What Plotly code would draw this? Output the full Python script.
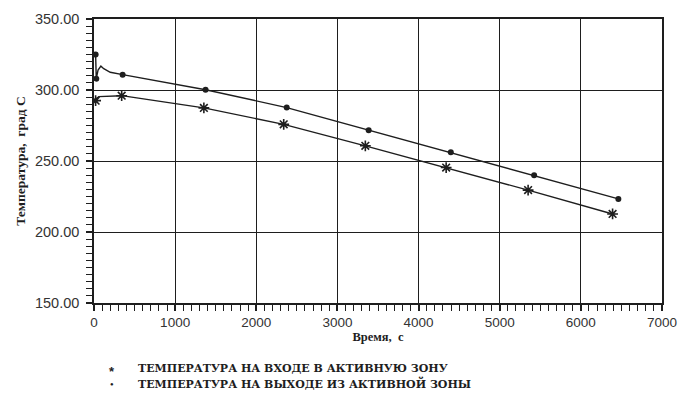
import plotly.graph_objects as go

# ---- data ----
out_t = [20, 28, 50, 85, 120, 200, 353, 1375, 2375, 3385, 4397, 5424, 6462]
out_v = [325.0, 308.0, 314.0, 316.8, 315.0, 312.5, 310.8, 300.2, 287.6, 271.7, 256.2, 239.9, 223.3]
out_mark_t = [20, 28, 353, 1375, 2375, 3385, 4397, 5424, 6462]
out_mark_v = [325.0, 308.0, 310.8, 300.2, 287.6, 271.7, 256.2, 239.9, 223.3]

in_t = [20, 30, 60, 120, 341, 1354, 2338, 3344, 4340, 5350, 6391]
in_v = [292.5, 294.0, 295.3, 295.5, 296.0, 287.4, 275.8, 260.7, 245.4, 229.5, 212.7]
in_mark_t = [20, 341, 1354, 2338, 3344, 4340, 5350, 6391]
in_mark_v = [292.5, 296.0, 287.4, 275.8, 260.7, 245.4, 229.5, 212.7]

x_range = [0, 7000]
y_range = [150, 350]

legend_labels = ["ТЕМПЕРАТУРА НА ВХОДЕ В АКТИВНУЮ ЗОНУ",
                 "ТЕМПЕРАТУРА НА ВЫХОДЕ ИЗ АКТИВНОЙ ЗОНЫ"]
x_title = "Время,  с"
y_title = "Температура,  град С"

INK = "#1e1e1e"

fig = go.Figure()
fig.add_trace(go.Scatter(x=out_t, y=out_v, mode="lines",
                         line=dict(color=INK, width=1.4), showlegend=False, hoverinfo="skip"))
fig.add_trace(go.Scatter(x=in_t, y=in_v, mode="lines",
                         line=dict(color=INK, width=1.4), showlegend=False, hoverinfo="skip"))
fig.add_trace(go.Scatter(x=out_mark_t, y=out_mark_v, mode="markers",
                         marker=dict(symbol="circle", size=6, color=INK), showlegend=False))
fig.add_trace(go.Scatter(x=in_mark_t, y=in_mark_v, mode="markers",
                         marker=dict(symbol="asterisk-open", size=9, color=INK,
                                     line=dict(color=INK, width=1.6)),
                         showlegend=False))

fig.update_layout(
    xaxis=dict(range=x_range, tickmode="linear", tick0=0, dtick=1000,
               showline=True, linecolor=INK, linewidth=1.5, mirror=True,
               showgrid=True, gridcolor=INK, gridwidth=1.3, zeroline=False,
               ticks="outside", ticklen=6, tickwidth=1.5, tickcolor=INK,
               minor=dict(ticks="outside", dtick=100, ticklen=6, tickwidth=1.3, tickcolor=INK),
               tickfont=dict(family="Liberation Sans", size=13.5, color="#333"),
               title=dict(text="<b>" + x_title + "</b>",
                          font=dict(family="Liberation Serif", size=12.5, color=INK), standoff=3)),
    yaxis=dict(range=y_range, tickmode="linear", tick0=150, dtick=50, tickformat=".2f",
               showline=True, linecolor=INK, linewidth=1.5, mirror=True,
               showgrid=True, gridcolor=INK, gridwidth=1.3, zeroline=False,
               ticks="outside", ticklen=6, tickwidth=1.5, tickcolor=INK,
               minor=dict(ticks="outside", dtick=5, ticklen=6, tickwidth=1.3, tickcolor=INK),
               ticklabelstandoff=4,
               tickfont=dict(family="Liberation Sans", size=14.5, color="#333"),
               title=dict(text="<b>" + y_title + "</b>",
                          font=dict(family="Liberation Serif", size=13.5, color=INK), standoff=6)),
)

# legend drawn as annotations below the plot
syms = ["<b>*</b>", "●"]
sym_sizes = [13, 6]
rows_y = [370, 386]
for i, lab in enumerate(legend_labels):
    yp = (303 - rows_y[i]) / 292.0
    fig.add_annotation(xref="paper", yref="paper", x=(112 - 94) / 568.0, y=yp,
                       text=syms[i], showarrow=False, xanchor="center", yanchor="middle",
                       font=dict(family="Liberation Sans", size=sym_sizes[i], color=INK),
                       yshift=-3 if i == 0 else 0)
    fig.add_annotation(xref="paper", yref="paper", x=(136 - 94) / 568.0, y=yp,
                       text="<b>" + lab + "</b>", showarrow=False, xanchor="left", yanchor="middle",
                       font=dict(family="DejaVu Serif", size=11, color=INK))

fig.update_layout(width=691, height=394,
                  margin=dict(l=94, r=29, t=11, b=91),
                  paper_bgcolor="white", plot_bgcolor="white",
                  showlegend=False)

fig.write_html("out.html")
